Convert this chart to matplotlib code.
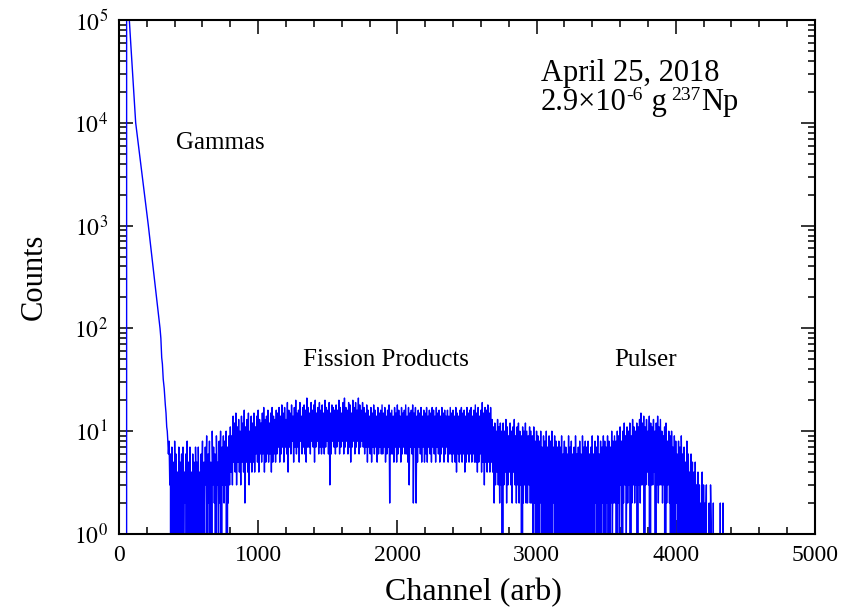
import numpy as np
import matplotlib
matplotlib.use('Agg')
import matplotlib.pyplot as plt
from matplotlib.ticker import MultipleLocator, LogLocator, FixedLocator, NullFormatter

plt.rcParams['font.family'] = ['Liberation Serif', 'DejaVu Serif']
plt.rcParams['mathtext.fontset'] = 'stix'

# gamma tail (channel, counts)
gamma_ch = [0, 54, 55, 64, 74, 85, 97, 108, 120, 143, 166, 188, 211, 232, 253,
            274, 295, 301, 307, 312, 318, 325, 333, 338, 343, 347, 351, 355]
gamma_counts = [0, 0, 300000, 170000, 100000, 58000, 32000, 18000, 10000, 5600,
                3200, 1800, 1000, 560, 316, 178, 100, 80, 52, 45, 32, 26,
                18, 15, 11, 10, 8, 6]

# fission products + pulser region: upper and lower reading per 10 channels
noise_start = 360
noise_step = 10
noise_high = [
    8, 6, 7, 5, 8, 6, 4, 7, 5, 6, 7, 4, 6, 8, 5, 7, 4, 6, 5, 7,
    5, 7, 4, 6, 8, 5, 7, 9, 6, 8, 5, 10, 7, 6, 9, 5, 8, 10, 7, 9,
    8, 10, 7, 9, 11, 9, 14, 12, 15, 11, 13, 10, 14, 12, 16, 11, 13, 15, 10, 14,
    12, 15, 11, 14, 16, 13, 12, 15, 17, 13, 14, 16, 12, 15, 17, 14, 13, 16, 15, 17,
    14, 18, 15, 17, 13, 19, 16, 15, 18, 14, 17, 20, 15, 16, 19, 14, 17, 18, 16, 21,
    17, 15, 19, 16, 18, 20, 15, 17, 19, 16, 18, 15, 20, 17, 16, 19, 15, 18, 17, 16,
    18, 16, 20, 17, 15, 19, 21, 17, 16, 19, 18, 15, 20, 17, 19, 16, 21, 18, 16, 19,
    17, 15, 18, 16, 14, 17, 15, 18, 16, 14, 17, 15, 16, 18, 15, 17, 14, 16, 18, 15,
    16, 14, 17, 15, 18, 16, 14, 17, 15, 16, 18, 14, 17, 15, 16, 18, 15, 17, 14, 16,
    15, 17, 14, 16, 15, 17, 14, 16, 15, 17, 16, 14, 17, 15, 16, 14, 17, 15, 16, 14,
    16, 14, 17, 15, 16, 14, 17, 15, 14, 16, 17, 15, 16, 14, 17, 15, 16, 17, 14, 16,
    18, 15, 17, 14, 16, 19, 15, 17, 16, 18, 15, 17, 13, 11, 12, 10, 13, 11, 12, 10,
    12, 10, 13, 11, 9, 12, 10, 11, 13, 9, 11, 12, 10, 9, 11, 10, 12, 10, 9, 11,
    10, 9, 11, 8, 10, 9, 8, 10, 7, 9, 8, 10, 7, 9, 8, 10, 7, 9, 8, 7,
    8, 7, 9, 6, 8, 7, 6, 9, 7, 8, 6, 7, 9, 6, 7, 8, 6, 9, 7, 8,
    7, 8, 6, 7, 9, 6, 8, 7, 9, 6, 8, 7, 9, 8, 7, 9, 8, 7, 10, 8,
    9, 8, 10, 9, 11, 8, 10, 12, 9, 11, 10, 12, 9, 13, 11, 10, 12, 11, 13, 15,
    12, 14, 11, 13, 10, 14, 12, 11, 13, 10, 12, 14, 11, 13, 10, 9, 11, 12, 8, 10,
    9, 10, 7, 9, 8, 6, 8, 7, 9, 6, 7, 5, 8, 6, 4, 6, 5, 4, 5, 3,
    4, 3, 2, 4, 3, 2, 3, 1, 2, 3, 1, 2, 0, 0, 0, 1, 2, 0, 2, 0, 0, 0,
]
noise_low = [
    3, 0, 1, 0, 2, 0, 1, 0, 2, 0, 1, 2, 0, 1, 0, 2, 0, 1, 0, 2,
    0, 1, 0, 2, 0, 1, 3, 0, 2, 1, 0, 3, 2, 0, 3, 1, 2, 0, 3, 2,
    3, 0, 2, 3, 4, 3, 5, 4, 3, 5, 4, 3, 5, 4, 2, 5, 4, 3, 5, 4,
    5, 4, 6, 5, 4, 6, 5, 6, 4, 5, 6, 5, 6, 4, 5, 6, 5, 6, 7, 5,
    6, 7, 5, 7, 6, 4, 7, 6, 8, 5, 7, 6, 7, 5, 8, 6, 7, 6, 5, 7,
    7, 6, 8, 7, 5, 7, 8, 6, 7, 6, 7, 6, 7, 8, 6, 3, 6, 8, 7, 6,
    7, 8, 6, 7, 8, 6, 7, 8, 6, 7, 5, 7, 8, 6, 7, 8, 6, 7, 8, 7,
    6, 7, 5, 7, 6, 5, 7, 6, 7, 5, 6, 7, 6, 6, 7, 5, 6, 7, 2, 6,
    6, 5, 7, 5, 6, 7, 5, 6, 7, 6, 6, 5, 3, 7, 6, 2, 7, 2, 5, 7,
    6, 5, 7, 5, 6, 5, 7, 6, 5, 7, 6, 5, 7, 6, 5, 6, 7, 5, 6, 7,
    5, 6, 6, 5, 6, 5, 4, 6, 5, 6, 5, 6, 4, 5, 6, 5, 6, 5, 6, 5,
    5, 4, 5, 6, 4, 5, 3, 5, 4, 5, 4, 5, 4, 2, 3, 4, 3, 2, 3, 0,
    3, 4, 2, 3, 4, 3, 2, 4, 3, 2, 3, 2, 3, 0, 2, 3, 2, 2, 3, 2,
    2, 1, 2, 0, 1, 0, 2, 1, 0, 1, 0, 2, 0, 1, 0, 1, 2, 0, 1, 0,
    0, 1, 0, 2, 0, 1, 0, 0, 1, 0, 2, 0, 1, 0, 0, 1, 0, 2, 0, 1,
    1, 0, 2, 0, 1, 0, 2, 1, 0, 1, 0, 2, 1, 0, 2, 1, 0, 2, 1, 2,
    2, 0, 2, 1, 3, 0, 2, 3, 1, 2, 3, 0, 2, 3, 2, 3, 0, 3, 2, 3,
    3, 0, 3, 4, 3, 0, 3, 3, 4, 0, 3, 2, 3, 3, 2, 3, 0, 2, 3, 2,
    0, 2, 0, 1, 2, 0, 1, 0, 2, 0, 1, 0, 0, 2, 0, 1, 0, 0, 1, 0,
    0, 0, 1, 0, 0, 1, 0, 0, 0, 1, 0, 0, 0, 0, 0, 0, 0, 0, 0, 0, 0, 0,
]

bin_ch = noise_start + noise_step * np.arange(len(noise_high))
noise_ch = np.column_stack([bin_ch, bin_ch + noise_step / 2]).ravel()
noise_counts = np.column_stack([noise_high, noise_low]).ravel()

channel = np.concatenate([gamma_ch, noise_ch])
counts = np.concatenate([gamma_counts, noise_counts]).astype(float)

fig = plt.figure(figsize=(8.59, 6.09), dpi=100)
ax = fig.add_axes([0.1385, 0.1232, 0.8102, 0.844])

ax.plot(channel, counts, color='#0000ff', lw=1.0)

ax.set_yscale('log', nonpositive='clip')
ax.set_xlim(0, 5000)
ax.set_ylim(1, 1e5)

ax.xaxis.set_major_locator(MultipleLocator(1000))
ax.xaxis.set_minor_locator(MultipleLocator(200))
ax.yaxis.set_major_locator(FixedLocator([1, 10, 100, 1000, 1e4, 1e5]))
ax.yaxis.set_minor_locator(LogLocator(base=10, subs=np.arange(2, 10), numticks=20))
ax.yaxis.set_minor_formatter(NullFormatter())
ax.set_yticklabels([r'$10^{%d}$' % i for i in range(6)])

ax.tick_params(which='both', direction='in', top=True, right=True,
               labelsize=17, width=1.1, pad=8)
ax.tick_params(which='major', length=10)
ax.tick_params(which='minor', length=5)
for s in ax.spines.values():
    s.set_linewidth(1.5)

ax.set_xlabel('Channel (arb)', fontsize=23, labelpad=4)
ax.xaxis.set_label_coords(0.51, -0.085)
ax.set_ylabel('Counts', fontsize=22, labelpad=18)

ax.text(412, 6300, 'Gammas', fontsize=18, va='center')
ax.text(1320, 49, 'Fission Products', fontsize=18, va='center')
ax.text(3560, 49, 'Pulser', fontsize=18, va='center')
ax.text(3030, 10**4.41, 'April 25, 2018', fontsize=22, va='baseline')

# second line: pieces share one baseline, superscripts raised
y2 = 10**4.12
t1 = ax.text(3030, y2, '2.9×10', fontsize=22, va='baseline')
s1 = ax.annotate('-6', xy=(1, y2), xycoords=(t1, 'data'), xytext=(0, 7.5),
                 textcoords='offset points', fontsize=14, va='baseline')
t2 = ax.annotate(' g', xy=(1, y2), xycoords=(s1, 'data'), xytext=(1, 0),
                 textcoords='offset points', fontsize=22, va='baseline')
s2 = ax.annotate('237', xy=(1, y2), xycoords=(t2, 'data'), xytext=(3, 7.5),
                 textcoords='offset points', fontsize=14, va='baseline')
ax.annotate('Np', xy=(1, y2), xycoords=(s2, 'data'), xytext=(0, 0),
            textcoords='offset points', fontsize=22, va='baseline')

fig.savefig('out.png', dpi=100)
